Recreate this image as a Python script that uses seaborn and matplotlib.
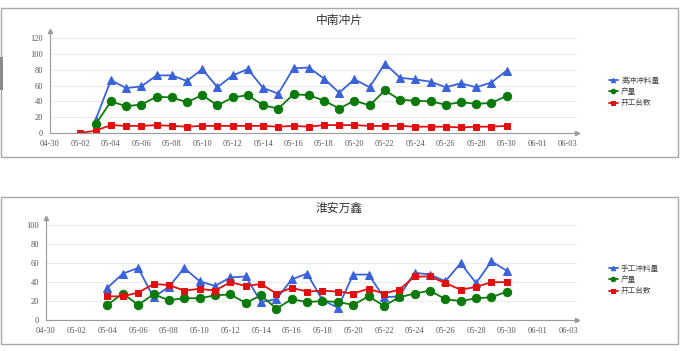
import seaborn as sns
import pandas as pd
import numpy as np
import matplotlib
matplotlib.use('Agg')
import matplotlib.pyplot as plt
from matplotlib.patches import Rectangle

# ---- data ----
top_title = "中南冲片"
top_days_main = ["05-%02d" % d for d in range(3, 31)]
top_days_red = ["05-%02d" % d for d in range(2, 31)]
top_feed = [17, 67, 57, 59, 73, 73, 66, 81, 58, 73, 81, 57, 50, 82, 83, 69, 51, 68,
            58, 88, 70, 68, 65, 58, 63, 58, 64, 79]
top_output = [11, 40, 34, 36, 46, 45, 39, 48, 35, 45, 48, 35, 31, 49, 48, 41, 31, 41,
              35, 54, 42, 41, 40, 36, 39, 37, 38, 47]
top_machines = [0, 3, 10, 9, 9, 10, 9, 8, 9, 9, 9, 9, 9, 8, 9, 8, 10, 10, 10, 9, 9, 9,
                8, 8, 8, 7, 8, 8, 9]
top_names = ["高冲冲料量", "产量", "开工台数"]

bot_title = "淮安万鑫"
bot_days = ["05-%02d" % d for d in range(4, 31)]
bot_feed = [34, 49, 55, 24, 35, 55, 41, 36, 45, 46, 19, 22, 43, 49, 21, 13, 48, 48,
            24, 25, 50, 48, 41, 60, 39, 62, 52]
bot_output = [16, 28, 16, 27, 21, 23, 23, 26, 27, 18, 26, 12, 22, 19, 20, 19, 16, 25,
              15, 24, 28, 31, 22, 20, 23, 24, 30]
bot_machines = [25, 25, 29, 38, 37, 31, 33, 31, 40, 36, 38, 28, 34, 30, 31, 30, 28, 33,
                28, 32, 46, 46, 39, 32, 35, 40, 40]
bot_names = ["手工冲料量", "产量", "开工台数"]

colors = ["#3a62d9", "#0b7a0b", "#e01010"]
markers = ["^", "o", "s"]
msizes = [5.8, 6, 4.5]


def to_dates(days):
    return pd.to_datetime(["2020-" + d for d in days])


sns.set_theme(style="white")
plt.rcParams['font.family'] = ['Liberation Serif', 'Noto Sans CJK SC', 'DejaVu Sans']

W, H = 700, 351
fig = plt.figure(figsize=(7, 3.51), dpi=100)

# panel frames
for (y0, y1) in [(8, 157), (197, 344)]:
    fig.patches.append(Rectangle((1 / W, 1 - y1 / H), 677 / W, (y1 - y0) / H,
                                 transform=fig.transFigure, fill=False,
                                 edgecolor="#a8a8a8", lw=1))
fig.patches.append(Rectangle((0, 1 - 90 / H), 2.5 / W, 33 / H,
                             transform=fig.transFigure, color="#8a8a8a", lw=0))


def panel(left, zero_y, px_unit, px_day, top_lim, yticks, series, names, title,
          title_y, legend_y):
    width = 34.6 * px_day
    height = top_lim * px_unit
    ax = fig.add_axes([left / W, (H - zero_y) / H, width / W, height / H])
    for (days, vals), name, c, m, ms in zip(series, names, colors, markers, msizes):
        df = pd.DataFrame({"date": to_dates(days), "value": vals})
        sns.lineplot(data=df, x="date", y="value", ax=ax, color=c, marker=m,
                     markersize=ms, markeredgecolor=c, linewidth=1.3, label=name)
    x0 = pd.Timestamp("2020-04-30")
    ax.set_xlim(x0, x0 + pd.Timedelta(days=34.6))
    ax.set_ylim(0, top_lim)
    ax.set_yticks(yticks)
    ticks = pd.date_range("2020-04-30", "2020-06-03", freq="2D")
    ax.set_xticks(ticks)
    ax.set_xticklabels([t.strftime("%m-%d") for t in ticks])
    ax.set_xticks(pd.date_range("2020-04-30", "2020-06-03", freq="1D"), minor=True)
    ax.set_xlabel("")
    ax.set_ylabel("")
    ax.grid(axis="y", color="#ececec", lw=0.8)
    ax.set_axisbelow(True)
    for s in ["top", "right"]:
        ax.spines[s].set_visible(False)
    for s in ["left", "bottom"]:
        ax.spines[s].set_color("#9a9a9a")
        ax.spines[s].set_linewidth(0.8)
    ax.tick_params(axis="x", which="both", direction="inout", length=4,
                   color="#9a9a9a", width=0.7, labelsize=6, labelcolor="#555555", pad=3)
    ax.tick_params(axis="y", direction="out", length=2, color="#9a9a9a",
                   labelsize=6, labelcolor="#555555", pad=3)
    # small arrow heads at axis ends
    ax.plot([1], [0], marker=">", ms=3, color="#9a9a9a", transform=ax.transAxes,
            clip_on=False)
    ax.plot([0], [1], marker="^", ms=3, color="#9a9a9a", transform=ax.transAxes,
            clip_on=False)
    fig.text(339 / W, 1 - title_y / H, title, ha="center", va="center", fontsize=8.5,
             color="#333333", family=["Noto Sans CJK SC", "DejaVu Sans"])
    handles, labels = ax.get_legend_handles_labels()
    leg = ax.legend(handles=handles, labels=labels, loc="center left",
                    bbox_to_anchor=(602 / W, 1 - legend_y / H),
                    bbox_transform=fig.transFigure, frameon=False,
                    handlelength=1.2, handletextpad=0.4, labelspacing=0.45,
                    markerscale=0.55, prop={"family": ["Noto Sans CJK SC", "DejaVu Sans"],
                                           "size": 5.5})
    for t in leg.get_texts():
        t.set_color("#444444")
    return ax


panel(50, 133, 0.789, 15.22, 129, range(0, 121, 20),
      [(top_days_main, top_feed), (top_days_main, top_output),
       (top_days_red, top_machines)],
      top_names, top_title, 20, 92)
panel(46, 320, 0.946, 15.36, 107.8, range(0, 101, 20),
      [(bot_days, bot_feed), (bot_days, bot_output), (bot_days, bot_machines)],
      bot_names, bot_title, 208, 280)

fig.savefig("out.png", dpi=100)
